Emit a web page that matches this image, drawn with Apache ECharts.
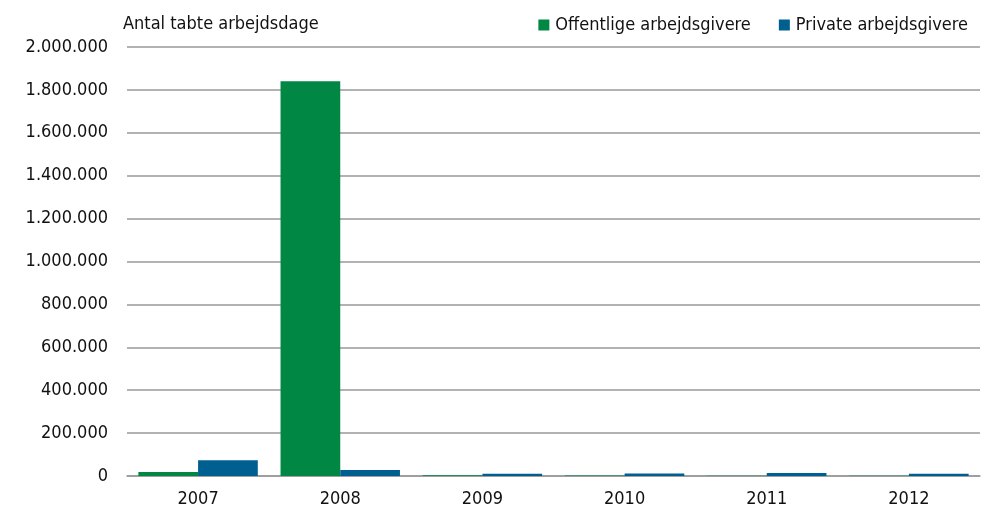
<!DOCTYPE html>
<html>
<head>
<meta charset="utf-8">
<script src="https://cdn.jsdelivr.net/npm/echarts@6/dist/echarts.min.js"></script>
<style>
  html, body { margin: 0; padding: 0; background: #fff; }
  #chart { width: 995px; height: 527px; }
</style>
</head>
<body>
<div id="chart"></div>
<script>
// tabte arbejdsdage pr. år
var years = ['2007', '2008', '2009', '2010', '2011', '2012'];
var offentlige = [19000, 1840000, 3000, 2000, 1000, 1500];
var private_ = [73000, 28000, 10000, 12000, 14000, 10000];
var yTicks = [0, 200000, 400000, 600000, 800000, 1000000, 1200000, 1400000, 1600000, 1800000, 2000000];

var font = "'DejaVu Sans Condensed', 'Open Sans', sans-serif";
var chart = echarts.init(document.getElementById('chart'));

function fmt(v) {
  return String(v).replace(/\B(?=(\d{3})+(?!\d))/g, '.');
}

chart.setOption({
  animation: false,
  textStyle: { fontFamily: font, color: '#111' },
  grid: { left: 127, right: 15, top: 47, bottom: 51 },
  title: {
    text: 'Antal tabte arbejdsdage',
    left: 118, top: 10,
    textStyle: { fontFamily: font, fontSize: 18, fontWeight: 'normal', color: '#111' }
  },
  legend: {
    right: 22, top: 11,
    itemWidth: 11, itemHeight: 11, itemGap: 28,
    icon: 'rect',
    textStyle: { fontFamily: font, fontSize: 18, color: '#111', padding: [0, 0, 0, 1] },
    data: ['Offentlige arbejdsgivere', 'Private arbejdsgivere']
  },
  xAxis: {
    type: 'category',
    data: years,
    axisLine: { lineStyle: { color: '#999', width: 1.5 } },
    axisTick: { show: false },
    axisLabel: { fontFamily: font, fontSize: 18, color: '#111', margin: 14 }
  },
  yAxis: {
    type: 'value',
    min: yTicks[0], max: yTicks[yTicks.length - 1], interval: 200000,
    axisLine: { show: false },
    axisTick: { show: false },
    splitLine: { lineStyle: { color: '#999', width: 1.5 } },
    axisLabel: { fontFamily: font, fontSize: 18, color: '#111', margin: 19, formatter: fmt }
  },
  series: [
    {
      name: 'Offentlige arbejdsgivere',
      type: 'bar',
      data: offentlige,
      barGap: '0%',
      barCategoryGap: '16%',
      itemStyle: { color: '#008744' }
    },
    {
      name: 'Private arbejdsgivere',
      type: 'bar',
      data: private_,
      itemStyle: { color: '#005f91' }
    }
  ]
});
</script>
</body>
</html>
